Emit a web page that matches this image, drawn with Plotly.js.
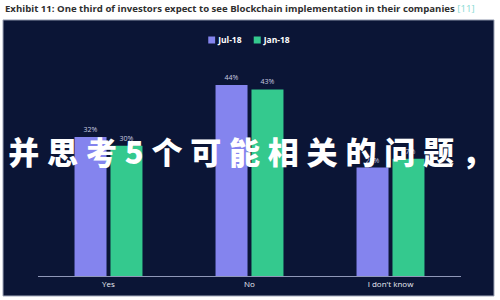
<!DOCTYPE html>
<html>
<head>
<meta charset="utf-8">
<script src="https://cdn.plot.ly/plotly-3.0.1.min.js"></script>
<style>
  html, body { margin: 0; padding: 0; background: #ffffff; }
  #chart { width: 500px; height: 300px; }
</style>
</head>
<body>
<div id="chart"></div>
<script>
// Survey answers and shares of investors (%) per survey wave
const categories = ['Yes', 'No', "I don't know"];
const seriesNames = ['Jul-18', 'Jan-18'];
const jul18 = [32, 44, 25];
const jan18 = [30, 43, 27];

const chartTitle = 'Exhibit 11: One third of investors expect to see Blockchain implementation in their companies';
const titleRef = '[11]';
const overlayText = '并思考5个可能相关的问题，';

const panelColor = '#0b1536';
const colors = ['#8484ee', '#34c98e'];

const traces = [jul18, jan18].map((vals, i) => ({
  type: 'bar',
  name: seriesNames[i],
  x: categories,
  y: vals,
  marker: { color: colors[i] },
  texttemplate: '%{y}%',
  textposition: 'outside',
  textfont: { family: 'Open Sans, sans-serif', size: 7, color: '#c9cce0' },
  cliponaxis: false,
  hoverinfo: 'skip'
}));

const layout = {
  width: 500,
  height: 300,
  margin: { l: 38, r: 39, t: 59, b: 24, pad: 0 },
  paper_bgcolor: '#ffffff',
  plot_bgcolor: panelColor,
  barmode: 'group',
  bargap: 0.49,
  bargroupgap: 0.11,
  showlegend: true,
  legend: {
    orientation: 'h',
    x: 0.5, xanchor: 'center',
    y: 1.087, yanchor: 'middle',
    font: { family: 'Open Sans, sans-serif', size: 8.5, color: '#ffffff', weight: 'bold' },
    bgcolor: 'rgba(0,0,0,0)',
    itemwidth: 30,
    tracegroupgap: 0
  },
  xaxis: {
    type: 'category',
    showline: true,
    linecolor: '#8f97b8',
    linewidth: 1,
    ticks: '',
    showgrid: false,
    zeroline: false,
    tickfont: { family: 'Open Sans, sans-serif', size: 8, color: '#e8eaf2' },
    fixedrange: true
  },
  yaxis: {
    range: [0, 50],
    visible: false,
    showgrid: false,
    zeroline: false,
    fixedrange: true
  },
  shapes: [{
    type: 'rect', layer: 'below',
    xref: 'paper', yref: 'paper',
    x0: -0.0827, x1: 1.078, y0: -0.092, y1: 1.18,
    fillcolor: panelColor,
    line: { color: '#9aa1b4', width: 1 }
  }],
  annotations: [
    {
      xref: 'paper', yref: 'paper',
      x: -0.083, xanchor: 'left',
      y: 1.235, yanchor: 'middle',
      showarrow: false,
      align: 'left',
      text: chartTitle + ' <span style="color:#86d9d2;font-weight:normal">' + titleRef + '</span>',
      font: { family: 'Open Sans, sans-serif', size: 9.6, color: '#2f2f2f', weight: 'bold' }
    },
    {
      xref: 'paper', yref: 'paper',
      x: 0.511, xanchor: 'center',
      y: 0.58, yanchor: 'middle',
      showarrow: false,
      text: overlayText,
      font: { family: 'Noto Sans CJK SC, sans-serif', size: 31, color: '#ffffff', weight: 900 }
    }
  ]
};

function compactLegend() {
  // small square swatches with the label right next to them
  const legend = document.querySelector('.legend');
  if (!legend) return;
  const items = Array.from(legend.querySelectorAll('.traces'));
  const swatch = 7, textGap = 3, itemGap = 11;
  let cursor = 0;
  items.forEach(g => {
    const m = /translate\(([-\d.]+),\s*([-\d.]+)\)/.exec(g.getAttribute('transform') || '');
    const y = m ? parseFloat(m[2]) : 0;
    g.querySelectorAll('.legendpoints path').forEach(p => {
      p.setAttribute('transform', 'translate(' + (swatch / 2) + ',0) scale(' + (swatch / 12) + ')');
    });
    const t = g.querySelector('.legendtext');
    t.setAttribute('x', swatch + textGap);
    g.setAttribute('transform', 'translate(' + cursor + ',' + y + ')');
    cursor += swatch + textGap + t.getBBox().width + itemGap;
  });
  const total = cursor - itemGap;
  const plotLeft = layout.margin.l;
  const plotW = layout.width - layout.margin.l - layout.margin.r;
  const m = /translate\(([-\d.]+),\s*([-\d.]+)\)/.exec(legend.getAttribute('transform') || '');
  const ly = m ? parseFloat(m[2]) : 0;
  legend.setAttribute('transform', 'translate(' + (plotLeft + plotW / 2 - total / 2) + ',' + ly + ')');
  const bg = legend.querySelector('.bg');
  if (bg) bg.setAttribute('width', total);
}

Plotly.newPlot('chart', traces, layout, { displayModeBar: false, staticPlot: true }).then(() => {
  // widen the spacing of the large overlay caption
  const texts = document.querySelectorAll('.annotation-text');
  if (texts.length > 1) {
    texts[1].style.letterSpacing = '7.8px';
  }
  compactLegend();
});
</script>
</body>
</html>
